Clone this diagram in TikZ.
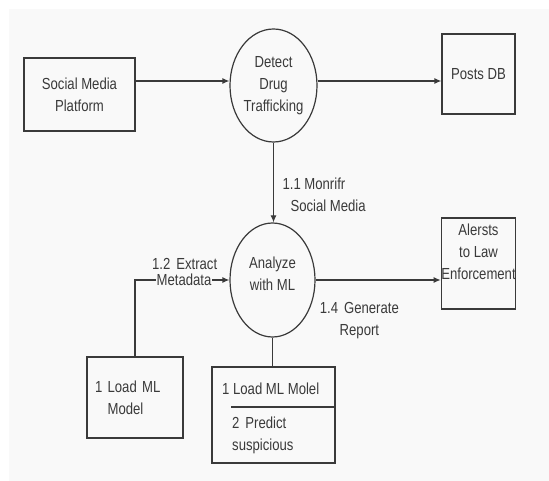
\documentclass[tikz,border=0pt]{standalone}
\usepackage{fontspec}
\setmainfont[FakeStretch=0.82]{Liberation Sans}
\usetikzlibrary{arrows.meta}
\usetikzlibrary{shapes.geometric}
\definecolor{ink}{RGB}{58,58,58}
\definecolor{paper}{RGB}{249,249,249}
\tikzset{
	process/.style={ellipse, draw=ink, line width=1.2pt, inner sep=0pt, align=center},
	store/.style={rectangle, draw=ink, line width=1.2pt, inner sep=0pt, align=center},
	flow/.style={draw=ink, line width=1.2pt, -{Latex[length=7pt,width=6pt]}},
	link/.style={draw=ink, line width=1.2pt},
	flowlabel/.style={inner sep=0pt, text=ink},
}

\begin{document}
\begin{tikzpicture}[x=1pt, y=-1pt, font=\fontsize{16}{22}\selectfont, text=ink]
	\useasboundingbox (0,0) rectangle (549,481);
	\fill[white] (0,0) rectangle (549,481);
	\fill[paper] (9,9) rectangle (549,481);

	% external entities and processes
	\node[store, minimum width=111pt, minimum height=73pt] (smp) at (79.5,94.5) {Social Media\\Platform};
	\node[process, minimum width=87pt, minimum height=113pt] (detect) at (273.5,85.5) {Detect\\Drug\\Trafficking};
	\node[store, minimum width=73pt, minimum height=80pt] (posts) at (478.5,74) {Posts DB};
	\node[process, minimum width=85pt, minimum height=114pt, text depth=12pt] (analyze) at (272.5,280) {Analyze\\with ML};
	\node[store, minimum width=73pt, minimum height=91pt, text depth=23pt] (alerts) at (478.5,263.5) {Alersts\\to Law\\Enforcement};
	\node[store, minimum width=96pt, minimum height=81pt, text width=80pt, align=left] (loadml) at (135,397.5) {1 Load ML\\\hphantom{1 }Model};

	% ML steps
	\node[store, minimum width=123pt, minimum height=96pt] (mlbox) at (273.5,415) {};
	\node[flowlabel, anchor=west] (step1) at (222,389) {1 Load ML Molel};
	\node[flowlabel, anchor=north west, align=left] (step2) at (232,417) {2\hspace{6pt}Predict\\suspicious};
	\draw[link] ([xshift=20pt,yshift=8pt]mlbox.west) -- ([yshift=8pt]mlbox.east);

	% data flows
	\draw[flow] ([yshift=13.5pt]smp.east) -- ([yshift=4.5pt]detect.west);
	\draw[flow] ([yshift=4.5pt]detect.east) -- ([yshift=-7pt]posts.west);
	\draw[flow] (detect.south) -- node[flowlabel, pos=.65, anchor=west, xshift=8.5pt, align=left] (monitor) {1.1 Monrifr\\\hspace*{8pt}Social Media} (detect.south |- analyze.north);
	\draw[flow] (loadml.north) |- node[flowlabel, pos=.76, fill=paper, inner xsep=1pt, inner ysep=1pt,
		label={[flowlabel, anchor=south east, label distance=8pt, xshift=-3pt]north east:1.2\hspace{6pt}Extract}] (extract) {Metadata} (analyze.west);
	\draw[flow] (analyze.east) -- node[flowlabel, pos=.35, anchor=north, yshift=-22pt, align=center] (report) {1.4\hspace{6pt}Generate\\Report} (analyze.east -| alerts.west);
	\draw[link] (analyze.south) -- (analyze.south |- mlbox.north);
\end{tikzpicture}
\end{document}
